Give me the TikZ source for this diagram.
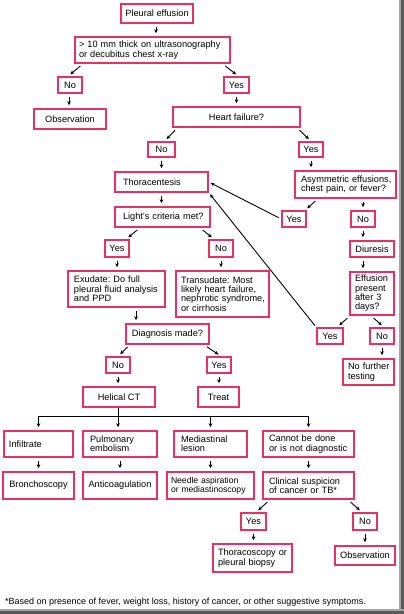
\documentclass[tikz,border=0pt]{standalone}
\usepackage{fontspec}
\setmainfont{Liberation Sans}
\usetikzlibrary{arrows.meta,calc}
\definecolor{pinkc}{RGB}{232,48,100}
\frenchspacing
\newcommand\ml[1]{\mbox{#1}}
\begin{document}
\begin{tikzpicture}[x=1pt,y=-1pt,
 box/.style={draw=pinkc,line width=1.5pt,font=\fontsize{9.2}{9.4}\selectfont,inner xsep=0pt,inner ysep=0pt,align=center},
 yn/.style={box,minimum width=24pt,minimum height=16pt},
 arr/.style={draw=black,line width=0.9pt,-{Stealth[length=4pt,width=3.6pt]},shorten <=3.5pt,shorten >=3pt},
 ln/.style={draw=black,line width=0.9pt}]
\useasboundingbox (0,0) rectangle (404,614);
\fill[white] (0,0) rectangle (404,614);
\fill[black!35] (399,0) rectangle (404,614);
\fill[black!65] (400.5,0) rectangle (404,614);
\fill[black!35] (0,609) rectangle (404,614);
\fill[black!65] (0,610.5) rectangle (404,614);

% nodes
\node[box,minimum width=72pt,minimum height=19pt] (pe) at (157,13.5) {Pleural effusion};
\node[box,minimum width=155pt,minimum height=26pt,text width=147pt,align=left] (thick) at (152.5,50) {\ml{> 10 mm thick on ultrasonography}\\\ml{or decubitus chest x-ray}};
\node[yn] (no1) at (70,85) {No};
\node[yn,minimum width=25pt] (yes1) at (236.5,85) {Yes};
\node[box,minimum width=72pt,minimum height=20pt] (obs1) at (70,119) {Observation};
\node[box,minimum width=127pt,minimum height=20pt] (hf) at (236.5,117) {Heart failure?};
\node[yn,minimum width=27pt,minimum height=15pt] (no2) at (161.5,149.5) {No};
\node[yn,minimum height=15pt] (yes2) at (311,149.5) {Yes};
\node[box,minimum width=93pt,minimum height=20pt,text width=77pt,align=left] (thor) at (161.5,182) {\ml{Thoracentesis}};
\node[box,minimum width=101pt,minimum height=27pt,text width=89pt,align=left] (asym) at (345.5,184.5) {\ml{Asymmetric effusions,}\\\ml{chest pain, or fever?}};
\node[box,minimum width=95pt,minimum height=20pt,text width=79pt,align=left] (light) at (162.5,217) {\ml{Light's criteria met?}};
\node[yn] (yes3) at (294,219) {Yes};
\node[yn] (no3) at (363,219) {No};
\node[yn,minimum height=17pt] (yes4) at (117,248.5) {Yes};
\node[yn,minimum height=17pt] (no4) at (221,248.5) {No};
\node[box,minimum width=44pt,minimum height=16pt] (diur) at (372,249) {Diuresis};
\node[box,minimum width=97pt,minimum height=36pt,text width=85pt,align=left] (exud) at (116.5,289) {\ml{Exudate: Do full}\\\ml{pleural fluid analysis}\\\ml{and PPD}};
\node[box,minimum width=93pt,minimum height=46pt,text width=83pt,align=left] (trans) at (222.5,294) {\ml{Transudate: Most}\\\ml{likely heart failure,}\\\ml{nephrotic syndrome,}\\\ml{or cirrhosis}};
\node[box,minimum width=44pt,minimum height=43pt,text width=34pt,align=left] (eff) at (372,293.5) {\ml{Effusion}\\\ml{present}\\\ml{after 3}\\\ml{days?}};
\node[box,minimum width=83pt,minimum height=20pt] (diag) at (167.5,334) {Diagnosis made?};
\node[yn,minimum width=26pt] (yes5) at (330,336) {Yes};
\node[yn] (no5) at (382,336) {No};
\node[box,minimum width=51pt,minimum height=26pt,text width=41pt,align=left] (nft) at (368.5,372) {\ml{No further}\\\ml{testing}};
\node[yn] (no6) at (118,365) {No};
\node[yn] (yes6) at (219,365) {Yes};
\node[box,minimum width=72pt,minimum height=20pt] (hct) at (119,397) {Helical CT};
\node[box,minimum width=41pt,minimum height=20pt] (treat) at (218.5,397) {Treat};
\node[box,minimum width=69pt,minimum height=26pt,text width=59pt,align=left] (infil) at (38.5,444) {\ml{Infiltrate}};
\node[box,minimum width=74pt,minimum height=26pt,text width=60pt,align=left] (pulm) at (120,444) {\ml{Pulmonary}\\\ml{embolism}};
\node[box,minimum width=73pt,minimum height=26pt,text width=59pt,align=left] (medi) at (210.5,444) {\ml{Mediastinal}\\\ml{lesion}};
\node[box,minimum width=91pt,minimum height=26pt,text width=79pt,align=left] (cann) at (308.5,444) {\ml{Cannot be done}\\\ml{or is not diagnostic}};
\node[box,minimum width=71pt,minimum height=27pt] (bron) at (38.5,485.5) {Bronchoscopy};
\node[box,minimum width=74pt,minimum height=27pt] (anti) at (120,485.5) {Anticoagulation};
\node[box,minimum width=87pt,minimum height=27pt,text width=79pt,align=left,font=\fontsize{8.6}{9.4}\selectfont] (needle) at (210.5,485.5) {\ml{Needle aspiration}\\\ml{or mediastinoscopy}};
\node[box,minimum width=91pt,minimum height=27pt,text width=79pt,align=left] (clin) at (308.5,485.5) {\ml{Clinical suspicion}\\\ml{of cancer or TB*}};
\node[yn,minimum width=25pt,minimum height=17pt] (yes7) at (253.5,521.5) {Yes};
\node[yn,minimum height=17pt] (no7) at (365,521.5) {No};
\node[box,minimum width=79pt,minimum height=28pt,text width=69pt,align=left] (thsc) at (252.5,558) {\ml{Thoracoscopy or}\\\ml{pleural biopsy}};
\node[box,minimum width=60pt,minimum height=19pt] (obs2) at (365,555.5) {Observation};
\node[font=\fontsize{9}{9}\selectfont,anchor=west,inner sep=0pt] (foot) at (5,602) {*Based on presence of fever, weight loss, history of cancer, or other suggestive symptoms.};

% vertical arrows
\draw[arr] ([xshift=-1pt]pe.south) -- ([xshift=-1pt]pe.south |- thick.north);
\draw[arr] ([xshift=-1pt]no1.south) -- ([xshift=-1pt]no1.south |- obs1.north);
\draw[arr] (yes1.south) -- (yes1.south |- hf.north);
\draw[arr] (no2.south) -- (no2.south |- thor.north);
\draw[arr] (yes2.south) -- (yes2.south |- asym.north);
\draw[arr] (thor.south) -- (thor.south |- light.north);
\draw[arr] (no3.south |- asym.south) -- (no3.north);
\draw[arr] (no3.south) -- (no3.south |- diur.north);
\draw[arr] (no3.south |- diur.south) -- (no3.south |- eff.north);
\draw[arr] (yes4.south) -- (yes4.south |- exud.north);
\draw[arr] (no4.south) -- (no4.south |- trans.north);
\draw[arr] ([xshift=19.5pt]exud.south) -- ([xshift=19.5pt]exud.south |- diag.north);
\draw[arr] (no5.south) -- (no5.south |- nft.north);
\draw[arr] (no6.south) -- (no6.south |- hct.north);
\draw[arr] (yes6.south) -- (yes6.south |- treat.north);
\draw[arr] (infil.south) -- (bron.north);
\draw[arr] (pulm.south) -- (anti.north);
\draw[arr] (medi.south) -- (medi.south |- needle.north);
\draw[arr] (cann.south) -- (clin.north);
\draw[arr] (yes7.south) -- (yes7.south |- thsc.north);
\draw[arr] (no7.south) -- (no7.south |- obs2.north);

% diagonal arrows
\draw[arr] ([xshift=13pt]no1.north |- thick.south) -- ([xshift=-2pt]no1.north);
\draw[arr] ([xshift=-14pt]yes1.north |- thick.south) -- ([xshift=2pt]yes1.north);
\draw[arr] ([xshift=16pt]no2.north |- hf.south) -- ([xshift=3pt]no2.north);
\draw[arr] ([xshift=-14pt]yes2.north |- hf.south) -- (yes2.north);
\draw[arr] ([xshift=24pt]yes3.north |- asym.south) -- ([xshift=11pt]yes3.north);
\draw[arr] ([xshift=23pt]yes4.north |- light.south) -- ([xshift=9pt]yes4.north);
\draw[arr] ([xshift=-21pt]no4.north |- light.south) -- ([xshift=-7pt]no4.north);
\draw[arr] ([xshift=20pt]yes5.north |- eff.south) -- ([xshift=7pt]yes5.north);
\draw[arr] ([xshift=-11pt]no5.north |- eff.south) -- ([xshift=2pt]no5.north);
\draw[arr] ([xshift=12pt]no6.north |- diag.south) -- (no6.north);
\draw[arr] ([xshift=-15pt]yes6.north |- diag.south) -- ([xshift=2pt]yes6.north);
\draw[arr] ([xshift=16.5pt]yes7.north |- clin.south) -- ([xshift=2.5pt]yes7.north);
\draw[arr] ([xshift=-17pt]no7.north |- clin.south) -- ([xshift=-3pt]no7.north);

% long return arrows
\draw[arr,shorten <=3pt,shorten >=2pt] (yes3.west) -- (thor.east);
\draw[arr,shorten <=2pt,shorten >=2pt] (yes5.north west) -- (thor.south east);

% bus from Helical CT
\coordinate (busc) at (118,416);
\draw[ln] (hct.south -| busc) -- (busc);
\draw[ln] (infil.north |- busc) -- (cann.north |- busc);
\draw[arr,shorten <=0pt] (infil.north |- busc) -- (infil.north);
\draw[arr,shorten <=0pt] (busc) -- (busc |- pulm.north);
\draw[arr,shorten <=0pt] (medi.north |- busc) -- (medi.north);
\draw[arr,shorten <=0pt] (cann.north |- busc) -- (cann.north);
\end{tikzpicture}
\end{document}
